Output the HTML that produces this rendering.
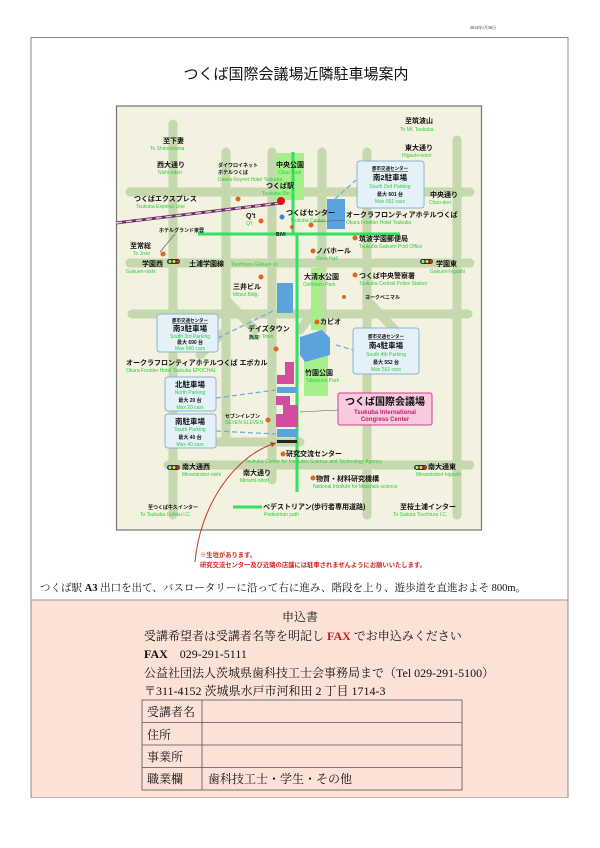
<!DOCTYPE html>
<html><head><meta charset="utf-8"><style>
body{margin:0;background:#fff;}
svg{display:block;}
.j{font-family:"Liberation Sans","Noto Sans CJK JP",sans-serif;font-weight:bold;fill:#111;}
.e{font-family:"Liberation Sans",sans-serif;fill:#2ecc40;}
.m{font-family:"Liberation Serif","Noto Serif CJK SC",serif;fill:#111;}
</style></head><body>
<svg width="600" height="848" viewBox="0 0 600 848" xmlns="http://www.w3.org/2000/svg">
<rect x="0" y="0" width="600" height="848" fill="#fff"/>
<text x="470" y="29" font-size="4" class="m">2014年1月30日</text>
<!-- outer box -->
<rect x="31" y="37.5" width="537" height="760" fill="#fff" stroke="#888" stroke-width="1"/>
<rect x="31.5" y="600" width="536" height="197.5" fill="#fbe1d6"/>
<line x1="31" y1="600" x2="568" y2="600" stroke="#999" stroke-width="1"/>
<text x="296" y="79" font-size="15" text-anchor="middle" class="j" style="font-weight:normal">つくば国際会議場近隣駐車場案内</text>

<!-- map frame -->
<rect x="116.5" y="106" width="365" height="424" fill="#f3f1df" stroke="#777" stroke-width="1.2"/>
<g stroke="#c6d8ae" stroke-width="9" stroke-linecap="round" fill="none">
<line x1="130" y1="192" x2="470" y2="192"/>
<line x1="130" y1="263" x2="470" y2="263"/>
<line x1="132" y1="314" x2="468" y2="314"/>
<line x1="168" y1="465" x2="470" y2="465"/>
<line x1="215" y1="442" x2="300" y2="442"/>
<line x1="173" y1="124" x2="173" y2="515"/>
<line x1="226" y1="152" x2="226" y2="440"/>
<line x1="272" y1="152" x2="272" y2="480"/>
<line x1="322" y1="152" x2="322" y2="330"/>
<line x1="367" y1="152" x2="367" y2="515"/>
<line x1="457" y1="140" x2="457" y2="515"/>
<path d="M226 300 L255 330 M322 300 L300 330 M226 330 L200 355 M367 330 L400 355 M367 300 L395 330"/>
</g>
<!-- parks -->
<rect x="276" y="153" width="28" height="47" fill="#a6f08c"/>
<rect x="311" y="268" width="11" height="62" fill="#a6f08c"/>
<rect x="304" y="340" width="24" height="56" fill="#a6f08c"/>
<!-- pedestrian -->
<g stroke="#33e060" stroke-width="3" fill="none">
<line x1="293" y1="152" x2="293" y2="233"/>
<line x1="198" y1="234" x2="400" y2="234"/>
<line x1="297" y1="234" x2="297" y2="492"/>
<line x1="233" y1="507" x2="262" y2="507"/>
</g>
<!-- railway -->
<line x1="116" y1="223" x2="281" y2="203" stroke="#6a2d6a" stroke-width="3"/>
<line x1="116" y1="223" x2="281" y2="203" stroke="#e8c8e0" stroke-width="1.4" stroke-dasharray="6 4"/>
<circle cx="281" cy="201" r="4" fill="#e01010"/>
<!-- blue buildings -->
<g fill="#5ba3dc">
<rect x="327" y="199" width="18" height="30"/>
<rect x="277" y="283" width="16" height="30"/>
<path d="M300 337 L322 330 L330 338 L330 355 L305 362 L300 355Z"/>
<rect x="277" y="387" width="20" height="6"/>
<rect x="277" y="429" width="20" height="8"/>
</g>
<rect x="277" y="440" width="20" height="3" fill="#222"/>
<!-- congress buildings -->
<g fill="#d24ca0">
<path d="M285 362 L294 362 L294 384 L277 384 L277 375 L285 375Z"/>
<path d="M276 396 L290 396 L290 405 L298 405 L298 427 L276 427 L276 414 L283 414 L283 405 L276 405Z"/>
</g>
<!-- dashed connectors -->
<g stroke="#7aaad8" stroke-width="1.3" stroke-dasharray="5 3" fill="none">
<line x1="335" y1="199" x2="356" y2="180"/>
<line x1="218" y1="338" x2="275" y2="310"/>
<line x1="336" y1="345" x2="353" y2="350"/>
<line x1="216" y1="398" x2="276" y2="390"/>
<line x1="216" y1="431" x2="276" y2="434"/>
</g>
<line x1="300" y1="412" x2="338" y2="410" stroke="#555" stroke-width="0.6"/>
<line x1="313" y1="222" x2="345" y2="220" stroke="#555" stroke-width="0.6"/>
<line x1="160" y1="252" x2="175" y2="234" stroke="#555" stroke-width="0.6"/>
<!-- parking boxes -->
<g fill="#e5f1f9" stroke="#8ab4d4" stroke-width="1">
<rect x="357" y="161" width="67" height="47" rx="3"/>
<rect x="157" y="314" width="61" height="38" rx="3"/>
<rect x="353" y="328" width="66" height="46" rx="3"/>
<rect x="165" y="377" width="51" height="34" rx="3"/>
<rect x="165" y="414" width="51" height="34" rx="3"/>
</g>
<g font-size="4.5" class="j" text-anchor="middle">
<text x="390" y="170" text-decoration="underline">都市交通センター</text>
<text x="190" y="322" text-decoration="underline">都市交通センター</text>
<text x="386" y="338" text-decoration="underline">都市交通センター</text>
</g>
<g font-size="7.5" class="j" text-anchor="middle">
<text x="390" y="180">南2駐車場</text>
<text x="190" y="331">南3駐車場</text>
<text x="386" y="348">南4駐車場</text>
<text x="190" y="387">北駐車場</text>
<text x="190" y="424">南駐車場</text>
</g>
<g font-size="5" class="e" text-anchor="middle">
<text x="390" y="188">South 2nd Parking</text>
<text x="190" y="338">South 3rd Parking</text>
<text x="386" y="356">South 4th Parking</text>
<text x="190" y="394">North Parking</text>
<text x="190" y="431">South Parking</text>
<text x="390" y="203">Max 601 cars</text>
<text x="190" y="350">Max 690 cars</text>
<text x="386" y="371">Max 552 cars</text>
<text x="190" y="409">Max 20 cars</text>
<text x="190" y="446">Max 40 cars</text>
</g>
<g font-size="5" class="j" text-anchor="middle">
<text x="390" y="196">最大 601 台</text>
<text x="190" y="344">最大 690 台</text>
<text x="386" y="364">最大 552 台</text>
<text x="190" y="402">最大 20 台</text>
<text x="190" y="439">最大 40 台</text>
</g>
<!-- congress label -->
<rect x="338" y="393" width="94" height="32" rx="2" fill="#f9c9dd" stroke="#d04090" stroke-width="1"/>
<text x="385" y="405" font-size="10" class="j" text-anchor="middle">つくば国際会議場</text>
<text x="385" y="414" font-size="6" font-family="Liberation Sans,sans-serif" font-weight="bold" fill="#c0206a" text-anchor="middle">Tsukuba International</text>
<text x="385" y="421" font-size="6" font-family="Liberation Sans,sans-serif" font-weight="bold" fill="#c0206a" text-anchor="middle">Congress Center</text>
<!-- orange dots -->
<g fill="#e0671e">
<circle cx="238" cy="199" r="2.5"/><circle cx="261" cy="221" r="2.5"/><circle cx="163" cy="254" r="2.5"/>
<circle cx="311" cy="225" r="2.5"/><circle cx="292" cy="227" r="2"/><circle cx="355" cy="238" r="2.5"/>
<circle cx="313" cy="251" r="2.5"/><circle cx="355" cy="275" r="2.5"/><circle cx="261" cy="277" r="2.5"/>
<circle cx="344" cy="297" r="2"/><circle cx="317" cy="322" r="2.5"/><circle cx="276" cy="349" r="2.5"/>
<circle cx="268" cy="420" r="2.5"/><circle cx="283" cy="454" r="2.5"/><circle cx="313" cy="478" r="2.5"/>
</g>
<circle cx="282" cy="217" r="2.5" fill="#3388dd"/>
<!-- signals -->
<g>
<rect x="167" y="259" width="13" height="5" rx="2.5" fill="#333"/><circle cx="170" cy="261.5" r="1.5" fill="#8f8"/><circle cx="174" cy="261.5" r="1.5" fill="#fd0"/><circle cx="178" cy="261.5" r="1.5" fill="#e22"/>
<rect x="420" y="259" width="13" height="5" rx="2.5" fill="#333"/><circle cx="423" cy="261.5" r="1.5" fill="#8f8"/><circle cx="427" cy="261.5" r="1.5" fill="#fd0"/><circle cx="431" cy="261.5" r="1.5" fill="#e22"/>
<rect x="167" y="465" width="13" height="5" rx="2.5" fill="#333"/><circle cx="170" cy="467.5" r="1.5" fill="#8f8"/><circle cx="174" cy="467.5" r="1.5" fill="#fd0"/><circle cx="178" cy="467.5" r="1.5" fill="#e22"/>
<rect x="414" y="465" width="13" height="5" rx="2.5" fill="#333"/><circle cx="417" cy="467.5" r="1.5" fill="#8f8"/><circle cx="421" cy="467.5" r="1.5" fill="#fd0"/><circle cx="425" cy="467.5" r="1.5" fill="#e22"/>
</g>
<!-- JP labels -->
<g font-size="7" class="j">
<text x="163" y="143">至下妻</text>
<text x="157" y="167">西大通り</text>
<text x="405" y="123">至筑波山</text>
<text x="405" y="150">東大通り</text>
<text x="276" y="167">中央公園</text>
<text x="266" y="188">つくば駅</text>
<text x="134" y="201">つくばエクスプレス</text>
<text x="430" y="197">中央通り</text>
<text x="286" y="215">つくばセンター</text>
<text x="346" y="217">オークラフロンティアホテルつくば</text>
<text x="246" y="218">Q't</text>
<text x="359" y="241">筑波学園郵便局</text>
<text x="316" y="253">ノバホール</text>
<text x="130" y="248">至常総</text>
<text x="142" y="266">学園西</text>
<text x="189" y="266">土浦学園線</text>
<text x="436" y="266">学園東</text>
<text x="304" y="279">大清水公園</text>
<text x="359" y="278">つくば中央警察署</text>
<text x="233" y="289">三井ビル</text>
<text x="320" y="324">カピオ</text>
<text x="248" y="331">デイズタウン</text>
<text x="126" y="365">オークラフロンティアホテルつくば エポカル</text>
<text x="305" y="375">竹園公園</text>
<text x="286" y="456">研究交流センター</text>
<text x="182" y="469">南大通西</text>
<text x="428" y="469">南大通東</text>
<text x="243" y="475">南大通り</text>
<text x="316" y="481">物質・材料研究機構</text>
<text x="263" y="509">ペデストリアン(歩行者専用道路)</text>
<text x="400" y="509">至桜土浦インター</text>
</g>
<g font-size="5" class="j">
<text x="218" y="167">ダイワロイネット</text>
<text x="218" y="174">ホテルつくば</text>
<text x="159" y="232">ホテルグランド東雲</text>
<text x="249" y="339">西友</text>
<text x="225" y="418">セブンイレブン</text>
<text x="365" y="299">ヨークベニマル</text>
<text x="276" y="236">BiVi</text>
<text x="148" y="509">至つくば牛久インター</text>
</g>
<g font-size="5" class="e">
<text x="150" y="150">To Shimotsuma</text>
<text x="158" y="174">Nishi-odori</text>
<text x="400" y="131">To Mt. Tsukuba</text>
<text x="402" y="157">Higashi-odori</text>
<text x="278" y="174">Chuo Park</text>
<text x="262" y="195">Tsukuba Stn.</text>
<text x="136" y="208">Tsukuba Express Line</text>
<text x="429" y="204">Chuo-dori</text>
<text x="290" y="222">Tsukuba Center</text>
<text x="346" y="224">Okura Frontier Hotel Tsukuba</text>
<text x="218" y="181">Daiwa Roynet Hotel Tsukuba</text>
<text x="246" y="225">Q't</text>
<text x="359" y="248">Tsukuba Gakuen Post Office</text>
<text x="316" y="260">Nova Hall</text>
<text x="133" y="255">To Joso</text>
<text x="126" y="273">Gakuen-nishi</text>
<text x="231" y="266">Tsuchiura-Gakuen st.</text>
<text x="430" y="273">Gakuen-higashi</text>
<text x="303" y="286">Oshimizu Park</text>
<text x="359" y="285">Tsukuba Central Police Station</text>
<text x="233" y="296">Mitsui Bldg.</text>
<text x="249" y="338">Days Town</text>
<text x="126" y="372">Okura Frontier Hotel Tsukuba EPOCHAL</text>
<text x="306" y="382">Takezono Park</text>
<text x="225" y="424">SEVEN ELEVEN</text>
<text x="245" y="463">Tsukuba Center for Institutes Science and Technology Agency</text>
<text x="182" y="476">Minamiodori-nishi</text>
<text x="240" y="482">Minami-odori</text>
<text x="416" y="476">Minamiodori-higashi</text>
<text x="313" y="488">National Institute for Materials science</text>
<text x="264" y="516">Pedestrian path</text>
<text x="140" y="516">To Tsukuba Ushiku I.C.</text>
<text x="393" y="516">To Sakura Tsuchiura I.C.</text>
</g>
<!-- red arrow -->
<path d="M195 562 C200 505 235 455 276 443" stroke="#c0392b" stroke-width="1" fill="none"/>
<path d="M276 443 L270 442 L272 447Z" fill="#c0392b"/>
<g font-size="6.3" class="j" style="fill:#e02020">
<text x="200" y="557">※生垣があります。</text>
<text x="200" y="567">研究交流センター及び近隣の店舗には駐車されませんようにお願いいたします。</text>
</g>
<text x="40" y="591" font-size="10.5" class="m">つくば駅 <tspan font-weight="bold">A3</tspan> 出口を出て、バスロータリーに沿って右に進み、階段を上り、遊歩道を直進およそ 800m。</text>
<!-- application -->
<g font-size="12" class="m">
<text x="300" y="621" text-anchor="middle">申込書</text>
<text x="144" y="640">受講希望者は受講者名等を明記し <tspan fill="#d01818" font-weight="bold">FAX</tspan> でお申込みください</text>
<text x="144" y="658"><tspan font-weight="bold">FAX</tspan>　029-291-5111</text>
<text x="144" y="677">公益社団法人茨城県歯科技工士会事務局まで（Tel 029-291-5100）</text>
<text x="144" y="695">〒311-4152 茨城県水戸市河和田 2 丁目 1714-3</text>
</g>
<g fill="none" stroke="#555" stroke-width="0.8">
<rect x="142" y="700" width="320" height="90"/>
<line x1="142" y1="722.5" x2="462" y2="722.5"/>
<line x1="142" y1="745" x2="462" y2="745"/>
<line x1="142" y1="767.5" x2="462" y2="767.5"/>
<line x1="202" y1="700" x2="202" y2="790"/>
</g>
<g font-size="12" class="m">
<text x="147" y="716">受講者名</text>
<text x="147" y="739">住所</text>
<text x="147" y="761">事業所</text>
<text x="147" y="783">職業欄</text>
<text x="208" y="783">歯科技工士・学生・その他</text>
</g>
</svg>
</body></html>
